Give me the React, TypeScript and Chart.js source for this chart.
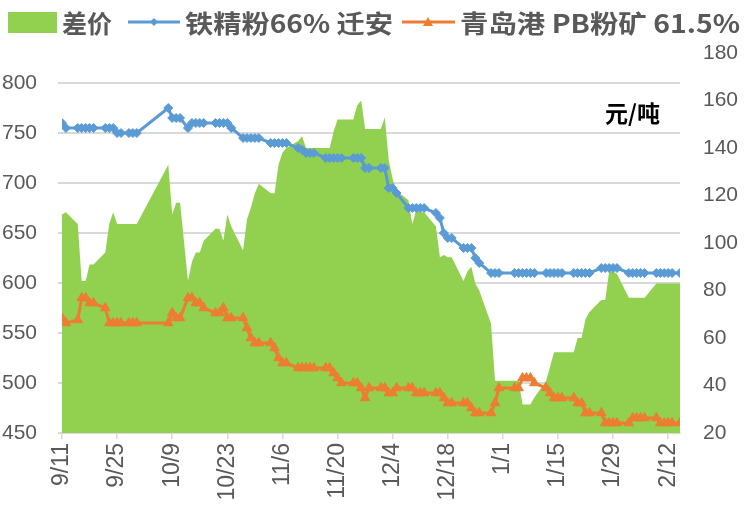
import React, { useEffect, useRef } from "react";
import { Chart, registerables } from "chart.js";

Chart.register(...registerables);

// ---------- data ----------
const dates = [
  "2014-09-11", "2014-09-12", "2014-09-15", "2014-09-16", "2014-09-17", "2014-09-18", "2014-09-19",
  "2014-09-22", "2014-09-23", "2014-09-24", "2014-09-25", "2014-09-26", "2014-09-28", "2014-09-29", "2014-09-30",
  "2014-10-08", "2014-10-09", "2014-10-10", "2014-10-11", "2014-10-13", "2014-10-14", "2014-10-15", "2014-10-16",
  "2014-10-17", "2014-10-20", "2014-10-21", "2014-10-22", "2014-10-23", "2014-10-24", "2014-10-27", "2014-10-28",
  "2014-10-29", "2014-10-30", "2014-10-31",
  "2014-11-03", "2014-11-04", "2014-11-05", "2014-11-06", "2014-11-07", "2014-11-10", "2014-11-11", "2014-11-12",
  "2014-11-13", "2014-11-14", "2014-11-17", "2014-11-18", "2014-11-19", "2014-11-20", "2014-11-21", "2014-11-24",
  "2014-11-25", "2014-11-26", "2014-11-27", "2014-11-28",
  "2014-12-01", "2014-12-02", "2014-12-03", "2014-12-04", "2014-12-05", "2014-12-08", "2014-12-09", "2014-12-10",
  "2014-12-11", "2014-12-12", "2014-12-15", "2014-12-16", "2014-12-17", "2014-12-18", "2014-12-19", "2014-12-22",
  "2014-12-23", "2014-12-24", "2014-12-25", "2014-12-26", "2014-12-29", "2014-12-30", "2014-12-31",
  "2015-01-04", "2015-01-05", "2015-01-06", "2015-01-07", "2015-01-08", "2015-01-09", "2015-01-12", "2015-01-13",
  "2015-01-14", "2015-01-15", "2015-01-16", "2015-01-19", "2015-01-20", "2015-01-21", "2015-01-22", "2015-01-23",
  "2015-01-26", "2015-01-27", "2015-01-28", "2015-01-29", "2015-01-30",
  "2015-02-02", "2015-02-03", "2015-02-04", "2015-02-05", "2015-02-06", "2015-02-09", "2015-02-10", "2015-02-11",
  "2015-02-12", "2015-02-13", "2015-02-15",
];

// 铁精粉66% 迁安 (left axis)
const qianan66 = [
  760, 755, 755, 755, 755, 755, 755, 755, 755, 755, 750, 750, 750, 750, 750,
  775, 765, 765, 765, 755, 760, 760, 760, 760, 760, 760, 760, 760, 755, 745, 745, 745, 745, 745,
  740, 740, 740, 740, 740, 735, 733, 730, 730, 730, 725, 725, 725, 725, 725, 725, 725, 725, 715, 715,
  715, 715, 695, 695, 690, 675, 675, 675, 675, 675, 670, 665, 650, 645, 645, 635, 635, 635, 625, 620, 610, 610, 610,
  610, 610, 610, 610, 610, 610, 610, 610, 610, 610, 610, 610, 610, 610, 610, 610, 615, 615, 615, 615, 615,
  610, 610, 610, 610, 610, 610, 610, 610, 610, 610, 610,
];

// 青岛港 PB粉矿 61.5% (left axis)
const qingdaoPB = [
  565, 560, 563, 585, 585, 580, 580, 575, 560, 560, 560, 560, 560, 560, 560,
  560, 570, 565, 565, 585, 585, 580, 580, 575, 570, 570, 575, 565, 565, 565, 555, 545, 540, 540,
  540, 535, 525, 520, 520, 515, 515, 515, 515, 515, 515, 515, 510, 505, 500, 500, 500, 495, 485, 495,
  495, 495, 490, 490, 495, 495, 495, 490, 490, 490, 490, 490, 485, 480, 480, 480, 480, 475, 470, 470, 470, 480, 495,
  495, 495, 505, 505, 505, 500, 495, 490, 485, 485, 485, 485, 480, 480, 470, 470, 470, 460, 460, 460, 460,
  460, 465, 465, 465, 465, 465, 460, 460, 460, 460, 460,
];

// 差价 (right axis)
const spread = [
  112, 113, 108, 84, 84, 91, 91, 96, 108, 113, 108, 108, 108, 108, 108,
  133, 112, 117, 117, 84, 92, 96, 96, 101, 106, 106, 101, 112, 107, 97, 110, 115, 121, 125,
  121, 121, 133, 138, 140, 143, 145, 140, 140, 140, 140, 140, 147, 152, 152, 152, 158, 160, 148, 148,
  148, 153, 135, 127, 122, 118, 108, 114, 113, 113, 107, 94, 95, 94, 94, 84, 88, 90, 83, 80, 66, 42, 42,
  42, 42, 32, 32, 32, 35, 42, 48, 54, 54, 54, 54, 60, 60, 68, 71, 76, 76, 88, 88, 87,
  77, 77, 77, 77, 77, 83, 83, 83, 83, 83, 83,
];

const seriesNames = ["差价", "铁精粉66% 迁安", "青岛港 PB粉矿 61.5%"];
const unitText = "元/吨";
const leftTicks = [450, 800, 50]; // min, top tick, step
const rightTicks = [20, 180, 20];
const xTickStepDays = 14;

// ---------- helpers ----------
const START = Date.UTC(2014, 8, 11);
const DAY = 86400000;
const dayOf = (s: string) => {
  const [y, m, d] = s.split("-").map(Number);
  return (Date.UTC(y, m - 1, d) - START) / DAY;
};
const fmtDay = (v: number) => {
  const dt = new Date(START + v * DAY);
  return `${dt.getUTCMonth() + 1}/${dt.getUTCDate()}`;
};

const GREEN = "#92d050";
const BLUE = "#5b9bd5";
const ORANGE = "#ed7d31";
const GRAY = "#595959";
const GRID = "#d9d9d9";

const legendPlugin = {
  id: "customLegend",
  afterDraw(chart: any) {
    const ctx = chart.ctx as CanvasRenderingContext2D;
    ctx.save();
    const cy = 22;
    // green box
    ctx.fillStyle = GREEN;
    ctx.fillRect(8, 12, 49, 21);
    // blue line + diamond
    ctx.strokeStyle = BLUE;
    ctx.lineWidth = 3;
    ctx.beginPath();
    ctx.moveTo(128, cy);
    ctx.lineTo(180, cy);
    ctx.stroke();
    ctx.fillStyle = BLUE;
    ctx.beginPath();
    ctx.moveTo(154, cy - 4);
    ctx.lineTo(158, cy);
    ctx.lineTo(154, cy + 4);
    ctx.lineTo(150, cy);
    ctx.closePath();
    ctx.fill();
    // orange line + triangle
    ctx.strokeStyle = ORANGE;
    ctx.beginPath();
    ctx.moveTo(402, cy);
    ctx.lineTo(455, cy);
    ctx.stroke();
    ctx.fillStyle = ORANGE;
    ctx.beginPath();
    ctx.moveTo(428, cy - 5);
    ctx.lineTo(433, cy + 4);
    ctx.lineTo(423, cy + 4);
    ctx.closePath();
    ctx.fill();
    // texts
    ctx.fillStyle = GRAY;
    ctx.font = 'bold 25px "Noto Sans CJK SC", sans-serif';
    ctx.textBaseline = "middle";
    ctx.textAlign = "left";
    const items: [string, number, number][] = [
      [seriesNames[0], 62, 50],
      [seriesNames[1], 185, 208],
      [seriesNames[2], 460, 280],
    ];
    for (const [t, x, w] of items) {
      const mw = ctx.measureText(t).width;
      ctx.save();
      ctx.translate(x, cy + 1);
      ctx.scale(w / mw, 1);
      ctx.fillText(t, 0, 0);
      ctx.restore();
    }
    // unit label
    ctx.fillStyle = "#000000";
    ctx.font = 'bold 23px "Noto Sans CJK SC", sans-serif';
    ctx.fillText(unitText, 605, 113);
    ctx.restore();
  },
};

export default function App() {
  const ref = useRef<HTMLCanvasElement | null>(null);
  useEffect(() => {
    if (!ref.current) return;
    Chart.defaults.font.family = '"Liberation Sans", sans-serif';
    const xs = dates.map(dayOf);
    const chart = new Chart(ref.current, {
      type: "line",
      data: {
        datasets: [
          {
            label: seriesNames[1],
            data: xs.map((x, i) => ({ x, y: qianan66[i] })),
            yAxisID: "y",
            borderColor: BLUE,
            backgroundColor: BLUE,
            borderWidth: 3,
            pointStyle: "rectRot",
            pointRadius: 4.5,
            pointBorderWidth: 1,
            pointBorderColor: BLUE,
            pointBackgroundColor: BLUE,
            tension: 0,
            order: 1,
          },
          {
            label: seriesNames[2],
            data: xs.map((x, i) => ({ x, y: qingdaoPB[i] })),
            yAxisID: "y",
            borderColor: ORANGE,
            backgroundColor: ORANGE,
            borderWidth: 3,
            pointStyle: "triangle",
            pointRadius: 5.5,
            pointBorderWidth: 1,
            pointBorderColor: ORANGE,
            pointBackgroundColor: ORANGE,
            tension: 0,
            order: 2,
          },
          {
            label: seriesNames[0],
            data: xs.map((x, i) => ({ x, y: spread[i] })),
            yAxisID: "y1",
            fill: "start",
            backgroundColor: GREEN,
            borderColor: GREEN,
            borderWidth: 0,
            pointRadius: 0,
            tension: 0,
            order: 3,
          },
        ],
      },
      options: {
        responsive: false,
        animation: false,
        events: [],
        layout: { padding: { top: 53, left: 0, right: 0, bottom: 0 } },
        plugins: { legend: { display: false }, tooltip: { enabled: false }, title: { display: false } },
        scales: {
          x: {
            type: "linear",
            min: 0,
            max: dayOf(dates[dates.length - 1]),
            ticks: {
              stepSize: xTickStepDays,
              includeBounds: false,
              autoSkip: false,
              minRotation: 90,
              maxRotation: 90,
              padding: 4,
              color: GRAY,
              font: { size: 23 },
              callback: (v: any) => fmtDay(Number(v)),
            },
            grid: { drawOnChartArea: false, drawTicks: true, tickLength: 6, color: GRID, lineWidth: 1.5 },
            border: { display: true, color: GRID, width: 2 },
            afterFit: (s: any) => {
              s.height = 75;
            },
          },
          y: {
            position: "left",
            min: leftTicks[0],
            max: leftTicks[1] + 30,
            ticks: { stepSize: leftTicks[2], includeBounds: false, padding: 21, color: GRAY, font: { size: 21 } },
            grid: { color: GRID, lineWidth: 2, drawTicks: true, tickLength: 4 },
            border: { display: false },
            afterFit: (s: any) => {
              s.width = 62;
            },
          },
          y1: {
            position: "right",
            min: rightTicks[0],
            max: rightTicks[1],
            ticks: { stepSize: rightTicks[2], padding: 23, color: GRAY, font: { size: 21 } },
            grid: { display: false, drawTicks: false },
            border: { display: false },
            afterFit: (s: any) => {
              s.width = 66;
            },
          },
        },
      },
      plugins: [legendPlugin],
    });
    return () => chart.destroy();
  }, []);
  return (
    <div style={{ position: "absolute", left: 0, top: 0, width: 746, height: 508, background: "#fff" }}>
      <canvas ref={ref} width={746} height={508} style={{ display: "block" }} />
    </div>
  );
}
